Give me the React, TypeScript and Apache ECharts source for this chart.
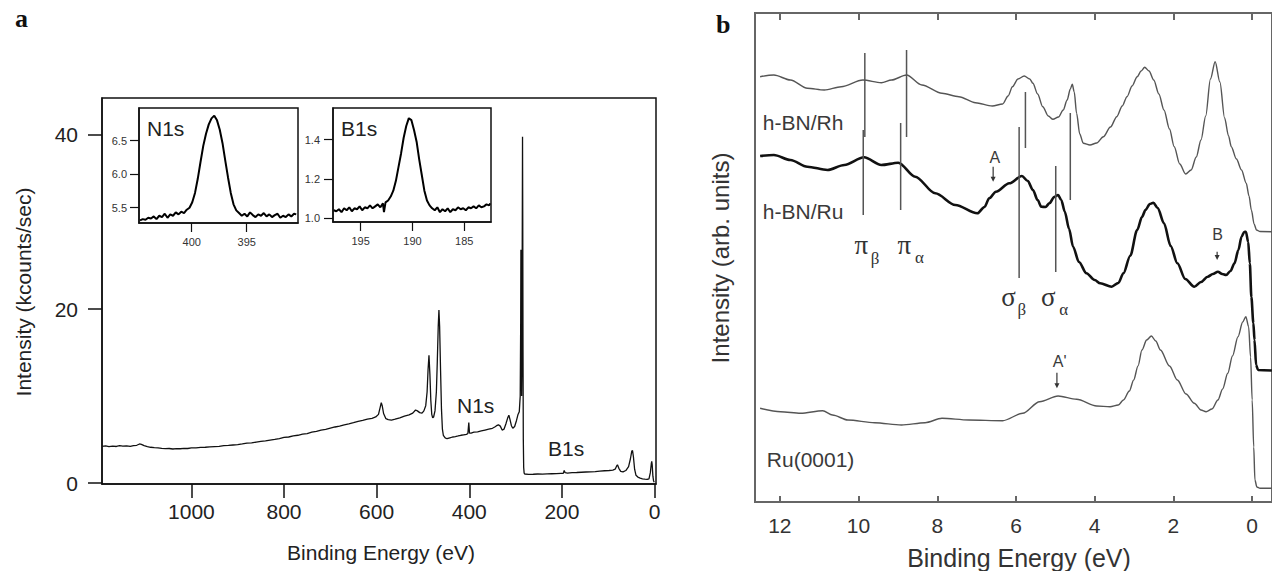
import React, { useEffect, useRef } from "react";
import * as echarts from "echarts";

// ---------- Panel a: XPS survey (Binding energy eV, kcounts/sec) ----------
const surveyData: [number, number][] = [
  [1193, 4.22], [1185, 4.28], [1178, 4.2], [1170, 4.26], [1162, 4.21], [1155, 4.3], [1148, 4.24], [1140, 4.28],
  [1132, 4.22], [1125, 4.3], [1118, 4.35], [1112, 4.5], [1108, 4.45], [1102, 4.3], [1095, 4.2], [1088, 4.12],
  [1080, 4.08], [1072, 4.05], [1064, 4.0], [1056, 3.96], [1048, 3.98], [1040, 3.92], [1032, 3.97], [1024, 3.95],
  [1016, 4.0], [1008, 3.98], [1000, 4.04], [990, 4.06], [980, 4.1], [970, 4.12], [960, 4.16], [950, 4.2],
  [940, 4.22], [930, 4.3], [920, 4.33], [910, 4.38], [900, 4.42], [890, 4.5], [880, 4.6], [870, 4.62],
  [860, 4.72], [850, 4.8], [840, 4.86], [830, 4.95], [820, 5.02], [810, 5.12], [800, 5.25], [790, 5.3],
  [780, 5.42], [770, 5.5], [760, 5.62], [750, 5.7], [740, 5.85], [730, 5.95], [720, 6.1], [710, 6.18],
  [700, 6.32], [690, 6.45], [680, 6.55], [670, 6.7], [660, 6.82], [650, 6.95], [640, 7.1], [630, 7.2],
  [620, 7.35], [610, 7.45], [602, 7.6], [596, 7.9], [592, 8.8], [590, 9.25], [588, 8.9], [585, 8.0],
  [580, 7.4], [575, 7.3], [568, 7.25], [560, 7.35], [550, 7.5], [540, 7.7], [530, 7.85], [522, 8.05],
  [516, 8.4], [512, 8.3], [507, 8.1], [502, 8.05], [498, 8.3], [494, 8.9], [491, 10.5], [489, 13.0],
  [487, 14.7], [485, 12.5], [483, 9.5], [481, 7.9], [479, 7.5], [477, 7.6], [474, 8.3], [471, 10.5],
  [469, 14], [467, 18], [465.5, 19.9], [464, 18], [462, 13], [460, 8.5], [458, 6.2], [456, 5.5],
  [452, 5.2], [448, 5.1], [442, 5.2], [436, 5.3], [430, 5.35], [424, 5.42], [418, 5.5], [412, 5.55],
  [406, 5.6], [403, 5.7], [401, 6.95], [399.5, 5.75], [396, 5.75], [390, 5.85], [382, 5.9], [374, 6.0],
  [366, 6.1], [358, 6.2], [350, 6.3], [345, 6.45], [341, 6.6], [337, 6.7], [333, 6.55], [329, 6.1],
  [325, 6.2], [321, 6.8], [317, 7.5], [314.5, 7.8], [312, 7.3], [309, 6.6], [306, 6.3], [302, 6.5],
  [298, 7.2], [295, 7.85], [292, 8.2], [290, 10], [289, 18], [288.5, 26.8], [288, 18], [287, 10],
  [286.3, 14], [285.5, 30], [285, 39.8], [284.5, 30], [284, 16], [283.3, 5], [282.5, 1.8], [281.5, 1.15],
  [280, 1.05], [272, 1.0], [262, 1.02], [252, 1.05], [242, 1.03], [232, 1.06], [222, 1.08], [212, 1.1],
  [202, 1.12], [197, 1.12], [195, 1.45], [193, 1.2], [188, 1.15], [178, 1.2], [168, 1.22], [158, 1.25],
  [148, 1.28], [138, 1.3], [128, 1.32], [118, 1.38], [108, 1.42], [98, 1.45], [90, 1.5], [85, 1.6],
  [82, 1.95], [80, 2.1], [77, 1.7], [73, 1.35], [68, 1.3], [62, 1.45], [56, 1.9], [52, 2.8],
  [49, 3.7], [47.5, 3.75], [45.5, 3.0], [43, 1.6], [40, 0.9], [36, 0.7], [31, 0.58], [26, 0.5],
  [21, 0.45], [16, 0.42], [12, 0.5], [9, 1.2], [7, 2.2], [6, 2.5], [5, 2.1], [3.5, 0.8], [2, 0.25], [0.5, 0.1],
];
const surveyXTicks = [0, 200, 400, 600, 800, 1000];
const surveyYTicks = [0, 20, 40];

// N1s inset
const n1sData: [number, number][] = [
  [404.7, 5.31], [404.45, 5.33], [404.2, 5.32], [403.95, 5.35], [403.7, 5.34], [403.45, 5.37], [403.2, 5.33],
  [402.95, 5.38], [402.7, 5.36], [402.45, 5.41], [402.2, 5.35], [401.95, 5.4], [401.7, 5.38], [401.45, 5.43],
  [401.2, 5.4], [400.95, 5.44], [400.7, 5.42], [400.45, 5.47], [400.2, 5.5], [399.95, 5.58], [399.7, 5.72],
  [399.45, 5.93], [399.2, 6.18], [398.95, 6.42], [398.7, 6.6], [398.45, 6.74], [398.2, 6.83], [397.95, 6.87],
  [397.7, 6.8], [397.45, 6.66], [397.2, 6.46], [396.95, 6.2], [396.7, 5.95], [396.45, 5.72], [396.2, 5.55],
  [395.95, 5.46], [395.7, 5.42], [395.45, 5.38], [395.2, 5.41], [394.95, 5.37], [394.7, 5.43], [394.45, 5.39],
  [394.2, 5.36], [393.95, 5.4], [393.7, 5.38], [393.45, 5.42], [393.2, 5.37], [392.95, 5.4], [392.7, 5.36],
  [392.45, 5.39], [392.2, 5.41], [391.95, 5.35], [391.7, 5.38], [391.45, 5.36], [391.2, 5.4], [390.95, 5.37],
  [390.7, 5.41], [390.5, 5.4],
];
const n1sXTicks = [400, 395];
const n1sYTicks = [5.5, 6.0, 6.5];

// B1s inset
const b1sData: [number, number][] = [
  [197.6, 1.04], [197.35, 1.035], [197.1, 1.045], [196.85, 1.03], [196.6, 1.05], [196.35, 1.04], [196.1, 1.055],
  [195.85, 1.035], [195.6, 1.05], [195.35, 1.045], [195.1, 1.06], [194.85, 1.04], [194.6, 1.055], [194.35, 1.05],
  [194.1, 1.065], [193.85, 1.05], [193.6, 1.06], [193.35, 1.07], [193.1, 1.055], [192.85, 1.075], [192.75, 1.03],
  [192.6, 1.08], [192.35, 1.09], [192.1, 1.11], [191.85, 1.14], [191.6, 1.19], [191.35, 1.26], [191.1, 1.33],
  [190.85, 1.41], [190.6, 1.47], [190.35, 1.51], [190.1, 1.5], [189.85, 1.45], [189.6, 1.39], [189.35, 1.3],
  [189.1, 1.22], [188.85, 1.14], [188.6, 1.09], [188.35, 1.065], [188.1, 1.05], [187.85, 1.04], [187.6, 1.055],
  [187.35, 1.03], [187.1, 1.045], [186.85, 1.035], [186.6, 1.05], [186.35, 1.03], [186.1, 1.045], [185.85, 1.04],
  [185.6, 1.055], [185.35, 1.045], [185.1, 1.05], [184.85, 1.04], [184.6, 1.055], [184.35, 1.05], [184.1, 1.06],
  [183.85, 1.05], [183.6, 1.065], [183.35, 1.055], [183.1, 1.06], [182.85, 1.07], [182.6, 1.065], [182.5, 1.075],
];
const b1sXTicks = [195, 190, 185];
const b1sYTicks = [1.0, 1.2, 1.4];

// ---------- Panel b: valence band spectra (eV, arb. units) ----------
const rhData: [number, number][] = [
  [12.5, 42.53], [12.15, 42.7], [11.73, 42.2], [11.3, 41.37], [10.87, 41.2], [10.44, 41.53], [9.89, 42.2],
  [9.42, 41.93], [9.16, 42.2], [8.78, 42.7], [8.39, 41.7], [7.88, 40.87], [7.45, 40.53], [7.03, 39.93],
  [6.6, 39.6], [6.34, 39.8], [6.2, 40.6], [6.09, 41.53], [5.95, 42.3], [5.79, 42.6], [5.65, 42.3], [5.57, 41.87],
  [5.45, 40.8], [5.32, 39.53], [5.18, 38.6], [5.06, 38.27], [4.92, 38.5], [4.8, 39.2], [4.7, 40.2], [4.62, 41.3],
  [4.57, 41.77], [4.52, 41.0], [4.46, 38.87], [4.38, 36.8], [4.29, 35.87], [4.12, 35.7], [3.95, 35.9],
  [3.78, 36.53], [3.6, 37.5], [3.44, 38.53], [3.3, 39.6], [3.18, 40.53], [3.05, 41.6], [2.92, 42.53],
  [2.82, 43.1], [2.73, 43.47], [2.62, 43.1], [2.5, 42.2], [2.37, 40.8], [2.24, 39.2], [2.1, 37.3],
  [1.98, 35.53], [1.84, 33.8], [1.69, 32.8], [1.55, 33.2], [1.42, 34.5], [1.3, 36.2], [1.18, 38.6],
  [1.06, 42.3], [0.94, 44.03], [0.82, 42.0], [0.7, 38.4], [0.6, 36.6], [0.53, 35.53], [0.4, 34.3],
  [0.27, 33.2], [0.15, 31.87], [0.08, 30.6], [0.02, 29.2], [-0.05, 27.8], [-0.11, 27.2], [-0.2, 27.05], [-0.5, 27.03],
];
const ruData: [number, number][] = [
  [12.5, 34.6], [12.15, 34.7], [11.73, 34.2], [11.3, 33.53], [10.79, 33.2], [10.36, 33.7], [9.86, 34.47],
  [9.42, 33.7], [8.99, 33.93], [8.56, 32.53], [8.05, 30.87], [7.54, 29.7], [6.98, 28.87], [6.8, 29.5],
  [6.68, 30.37], [6.51, 31.03], [6.17, 31.87], [5.85, 32.6], [5.7, 32.1], [5.57, 31.2], [5.45, 30.2],
  [5.36, 29.53], [5.25, 29.5], [5.15, 29.87], [5.03, 30.5], [4.93, 30.7], [4.85, 30.2], [4.76, 29.03],
  [4.65, 27.3], [4.55, 25.53], [4.4, 24.0], [4.21, 22.87], [4.0, 22.2], [3.86, 21.87], [3.57, 21.53],
  [3.4, 21.9], [3.27, 22.87], [3.1, 24.6], [2.92, 27.2], [2.8, 28.5], [2.71, 29.2], [2.6, 29.8],
  [2.51, 29.93], [2.4, 29.4], [2.24, 27.87], [2.07, 25.6], [1.9, 23.87], [1.7, 22.3], [1.47, 21.53],
  [1.3, 22.0], [1.13, 22.53], [1.0, 22.8], [0.87, 23.03], [0.76, 22.8], [0.66, 22.7], [0.55, 23.1],
  [0.45, 23.87], [0.35, 25.2], [0.27, 26.53], [0.2, 27.0], [0.16, 27.03], [0.1, 26.0], [0.06, 23.87],
  [0.02, 20.5], [-0.03, 17.9], [-0.06, 16.2], [-0.1, 13.7], [-0.15, 13.2], [-0.5, 13.15],
];
const ru0001Data: [number, number][] = [
  [12.5, 9.37], [11.98, 9.03], [11.47, 8.87], [10.91, 9.13], [10.66, 8.7], [10.27, 8.2], [9.59, 7.93],
  [8.91, 7.7], [8.31, 7.93], [7.88, 8.37], [7.2, 8.2], [6.34, 8.13], [5.83, 8.87], [5.4, 10.03],
  [4.93, 10.6], [4.46, 10.27], [3.95, 9.6], [3.61, 9.53], [3.4, 9.7], [3.27, 10.2], [3.12, 11.1], [3.01, 12.2],
  [2.9, 13.6], [2.8, 15.2], [2.68, 16.2], [2.56, 16.6], [2.45, 16.1], [2.33, 15.2], [2.1, 13.6], [1.9, 12.2],
  [1.68, 10.8], [1.47, 9.87], [1.3, 9.2], [1.17, 9.03], [1.02, 9.3], [0.87, 10.2], [0.75, 11.3], [0.62, 12.87],
  [0.5, 14.6], [0.36, 16.53], [0.24, 18.0], [0.16, 18.53], [0.09, 17.53], [0.04, 14.5], [0, 10.2],
  [-0.04, 5.5], [-0.07, 2.2], [-0.12, 1.5], [-0.2, 1.37], [-0.5, 1.37],
];
const bXTicks = [0, 2, 4, 6, 8, 10, 12];

// peak marker segments: [energy, from, to]
const markerSegments: [number, number, number][] = [
  [9.84, 44.9, 36.5], [9.88, 37.2, 28.7],
  [8.78, 45.2, 36.5], [8.93, 37.9, 29.2],
  [5.76, 41.0, 35.4], [5.92, 37.5, 22.4],
  [4.62, 38.9, 30.2], [4.99, 33.6, 23.0],
];
// Greek labels: [main, sub, E main, v main, E sub, v sub]
const greekLabels: [string, string, number, number, number, number][] = [
  ["π", "β", 9.93, 25.7, 9.58, 24.4],
  ["π", "α", 8.84, 25.7, 8.45, 24.5],
  ["σ", "β", 6.19, 20.5, 5.85, 19.3],
  ["σ", "α", 5.18, 20.5, 4.79, 19.3],
];
// arrow labels: [text, E label, v label, E arrow, v from, v to]
const arrowLabels: [string, number, number, number, number, number][] = [
  ["A", 6.54, 34.47, 6.58, 33.53, 32.03],
  ["B", 0.88, 26.8, 0.89, 25.03, 24.2],
  ["A'", 4.89, 14.03, 4.96, 12.93, 11.37],
];
const curveNames: [string, number, number][] = [
  ["h-BN/Rh", 12.43, 37.93],
  ["h-BN/Ru", 12.43, 29.03],
  ["Ru(0001)", 12.33, 4.27],
];

const SANS = '"Liberation Sans", Arial, sans-serif';
const SERIF = '"Liberation Serif", "Times New Roman", serif';

function App() {
  const ref = useRef<HTMLDivElement>(null);
  useEffect(() => {
    const chart = echarts.init(ref.current!, null, { renderer: "svg" });
    const ls = (c: string, w: number) => ({ color: c, width: w });
    const plain = (v: number) => String(v);
    const option: any = {
      animation: false,
      backgroundColor: "#fff",
      grid: [
        { left: 102, top: 98, width: 554, height: 386, show: true, borderColor: "#111", borderWidth: 1.5 },
        { left: 139, top: 108, width: 159, height: 115, show: true, borderColor: "#111", borderWidth: 1.5, backgroundColor: "#fff" },
        { left: 333, top: 108, width: 158, height: 114, show: true, borderColor: "#111", borderWidth: 1.5, backgroundColor: "#fff" },
        { left: 755, top: 13, width: 521, height: 489, show: true, borderColor: "#666", borderWidth: 2 },
      ],
      xAxis: [
        {
          gridIndex: 0, type: "value", inverse: true, min: -3.2, max: 1193,
          axisLine: { show: true, onZero: false, lineStyle: ls("#111", 1.5) },
          axisTick: { show: true, inside: false, length: 14, customValues: surveyXTicks, lineStyle: ls("#111", 1.5) },
          axisLabel: { customValues: surveyXTicks, formatter: plain, fontSize: 21, margin: 17, color: "#222", fontFamily: SANS },
          splitLine: { show: false },
        },
        {
          gridIndex: 1, type: "value", inverse: true, min: 390.34, max: 404.79,
          axisLine: { show: true, onZero: false, lineStyle: ls("#111", 1.5) },
          axisTick: { show: true, inside: false, length: 9, customValues: n1sXTicks, lineStyle: ls("#111", 1.2) },
          axisLabel: { customValues: n1sXTicks, formatter: plain, fontSize: 11, margin: 13, color: "#333", fontFamily: SANS },
          splitLine: { show: false },
        },
        {
          gridIndex: 2, type: "value", inverse: true, min: 182.42, max: 197.67,
          axisLine: { show: true, onZero: false, lineStyle: ls("#111", 1.5) },
          axisTick: { show: true, inside: false, length: 9, customValues: b1sXTicks, lineStyle: ls("#111", 1.2) },
          axisLabel: { customValues: b1sXTicks, formatter: plain, fontSize: 11, margin: 13, color: "#333", fontFamily: SANS },
          splitLine: { show: false },
        },
        {
          gridIndex: 3, type: "value", inverse: true, min: -0.504, max: 12.63,
          axisLine: { show: true, onZero: false, lineStyle: ls("#666", 2) },
          axisTick: { show: true, inside: true, length: 6, customValues: bXTicks, lineStyle: ls("#666", 2) },
          axisLabel: { customValues: bXTicks, formatter: plain, fontSize: 21, margin: 13, color: "#333", fontFamily: SANS },
          splitLine: { show: false },
        },
        {
          gridIndex: 3, type: "value", inverse: true, min: -0.504, max: 12.63, position: "top",
          axisLine: { show: true, onZero: false, lineStyle: ls("#666", 2) },
          axisTick: { show: true, inside: true, length: 7, customValues: bXTicks, lineStyle: ls("#666", 2) },
          axisLabel: { show: false },
          splitLine: { show: false },
        },
      ],
      yAxis: [
        {
          gridIndex: 0, type: "value", min: -0.1, max: 44.25,
          axisLine: { show: true, onZero: false, lineStyle: ls("#111", 1.5) },
          axisTick: { show: true, inside: false, length: 14, customValues: surveyYTicks, lineStyle: ls("#111", 1.5) },
          axisLabel: { customValues: surveyYTicks, formatter: plain, fontSize: 21, margin: 24, color: "#222", fontFamily: SANS },
          splitLine: { show: false },
        },
        {
          gridIndex: 1, type: "value", min: 5.272, max: 6.984,
          axisLine: { show: true, onZero: false, lineStyle: ls("#111", 1.5) },
          axisTick: { show: true, inside: false, length: 9, customValues: n1sYTicks, lineStyle: ls("#111", 1.2) },
          axisLabel: { customValues: n1sYTicks, fontSize: 11, margin: 12, color: "#333", fontFamily: SANS, formatter: (v: number) => v.toFixed(1) },
          splitLine: { show: false },
        },
        {
          gridIndex: 2, type: "value", min: 0.98, max: 1.562,
          axisLine: { show: true, onZero: false, lineStyle: ls("#111", 1.5) },
          axisTick: { show: true, inside: false, length: 9, customValues: b1sYTicks, lineStyle: ls("#111", 1.2) },
          axisLabel: { customValues: b1sYTicks, fontSize: 11, margin: 13, color: "#333", fontFamily: SANS, formatter: (v: number) => v.toFixed(1) },
          splitLine: { show: false },
        },
        {
          gridIndex: 3, type: "value", min: 0, max: 48.9,
          axisLine: { show: false, onZero: false }, axisTick: { show: false }, axisLabel: { show: false }, splitLine: { show: false },
        },
      ],
      series: [
        { type: "line", xAxisIndex: 0, yAxisIndex: 0, data: surveyData, showSymbol: false, lineStyle: { color: "#111", width: 1.3 }, z: 3 },
        { type: "line", xAxisIndex: 1, yAxisIndex: 1, data: n1sData, showSymbol: false, lineStyle: { color: "#000", width: 2 }, z: 3 },
        { type: "line", xAxisIndex: 2, yAxisIndex: 2, data: b1sData, showSymbol: false, lineStyle: { color: "#000", width: 2 }, z: 3 },
        { type: "line", xAxisIndex: 3, yAxisIndex: 3, data: rhData, showSymbol: false, smooth: 0.3, smoothMonotone: "x", lineStyle: { color: "#555", width: 1.4 } },
        { type: "line", xAxisIndex: 3, yAxisIndex: 3, data: ruData, showSymbol: false, smooth: 0.3, smoothMonotone: "x", lineStyle: { color: "#111", width: 2.6 } },
        { type: "line", xAxisIndex: 3, yAxisIndex: 3, data: ru0001Data, showSymbol: false, smooth: 0.3, smoothMonotone: "x", lineStyle: { color: "#555", width: 1.4 } },
        ...markerSegments.map(([e, a, b]) => ({
          type: "line", xAxisIndex: 3, yAxisIndex: 3, data: [[e, a], [e, b]], showSymbol: false,
          lineStyle: { color: "#555", width: 1.5 },
        })),
      ],
    };
    chart.setOption(option);

    const px = (e: number, v: number) => chart.convertToPixel({ gridIndex: 3 } as any, [e, v]) as number[];
    const graphic: any[] = [];
    const txt = (text: string, x: number, y: number, size: number, opts: any = {}) => ({
      type: "text", x, y, rotation: opts.rotation || 0, z: 10,
      style: {
        text, fontSize: size, fontFamily: opts.family || SANS, fontWeight: opts.weight || "normal",
        fill: opts.fill || "#222", align: opts.align || "left", verticalAlign: opts.valign || "middle",
      },
    });
    graphic.push(txt("a", 15, 18, 26, { family: SERIF, weight: "bold", fill: "#111" }));
    graphic.push(txt("b", 716, 24, 26, { family: SERIF, weight: "bold", fill: "#111" }));
    graphic.push(txt("Binding Energy (eV)", 381, 552, 21, { align: "center" }));
    graphic.push(txt("Intensity (kcounts/sec)", 23, 292, 21, { align: "center", rotation: Math.PI / 2 }));
    graphic.push(txt("N1s", 457, 405, 21));
    graphic.push(txt("B1s", 548, 448, 21));
    graphic.push(txt("N1s", 147, 128, 21));
    graphic.push(txt("B1s", 341, 128, 21));
    graphic.push(txt("Binding Energy (eV)", 1019, 558, 25, { align: "center", fill: "#333" }));
    graphic.push(txt("Intensity (arb. units)", 720, 258, 24, { align: "center", rotation: Math.PI / 2, fill: "#333" }));
    curveNames.forEach(([t, e, v]) => {
      const p = px(e, v);
      graphic.push(txt(t, p[0], p[1], 21, { fill: "#3a3a3a" }));
    });
    greekLabels.forEach(([m, s, e1, v1, e2, v2]) => {
      const p1 = px(e1, v1);
      const p2 = px(e2, v2);
      graphic.push(txt(m, p1[0], p1[1], 27, { family: SERIF, align: "center", fill: "#333" }));
      graphic.push(txt(s, p2[0], p2[1], 17, { family: SERIF, align: "center", fill: "#333" }));
    });
    arrowLabels.forEach(([t, el, vl, ea, va, vb]) => {
      const p = px(el, vl);
      graphic.push(txt(t, p[0], p[1], 16, { align: "center", fill: "#3a3a3a" }));
      const a = px(ea, va);
      const b = px(ea, vb);
      graphic.push({ type: "line", z: 10, shape: { x1: a[0], y1: a[1], x2: b[0], y2: b[1] - 4 }, style: { stroke: "#333", lineWidth: 1.2 } });
      graphic.push({ type: "polygon", z: 10, shape: { points: [[b[0] - 2.5, b[1] - 5], [b[0] + 2.5, b[1] - 5], [b[0], b[1]]] }, style: { fill: "#333" } });
    });
    chart.setOption({ graphic });
    return () => chart.dispose();
  }, []);
  return <div ref={ref} style={{ position: "fixed", left: 0, top: 0, width: 1272, height: 571, background: "#fff" }} />;
}

export default App;
